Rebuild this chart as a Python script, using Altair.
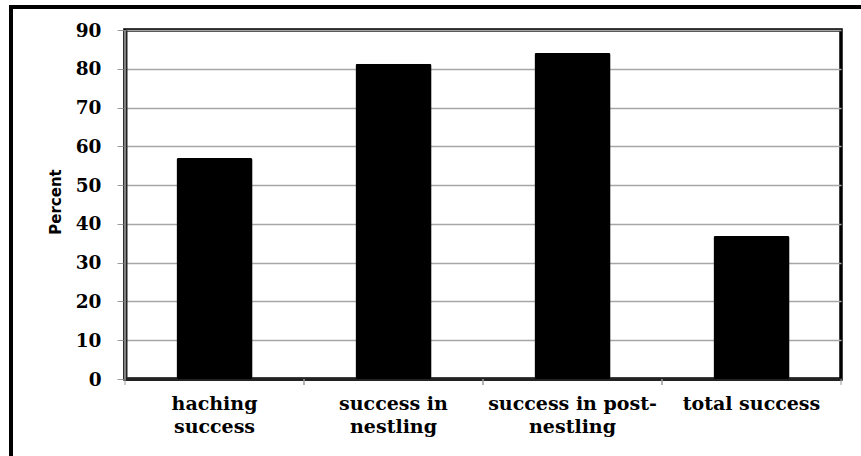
import altair as alt
import pandas as pd

# Breeding success by stage (%)
stages = [
    "haching\nsuccess",
    "success in\nnestling",
    "success in post-\nnestling",
    "total success",
]
percent = [57.0, 81.3, 84.1, 36.9]

df = pd.DataFrame({"stage": stages, "percent": percent})

PLOT_W, PLOT_H = 716, 349
LEFT, TOP = 125, 30
LABEL_FONT = "DejaVu Serif"

x_enc = alt.X(
    "stage:N",
    sort=stages,
    scale=alt.Scale(paddingInner=0.575, paddingOuter=0.2875),
    axis=alt.Axis(
        title=None,
        labelAngle=0,
        labelExpr="split(datum.label, '\\n')",
        labelFont=LABEL_FONT,
        labelFontWeight="bold",
        labelFontSize=19,
        labelColor="#000",
        labelLineHeight=23,
        labelPadding=15,
        labelBaseline="top",
        ticks=False,
        domainColor="#222",
        domainWidth=3,
        grid=False,
    ),
)

y_enc = alt.Y(
    "percent:Q",
    scale=alt.Scale(domain=[0, 90], nice=False),
    axis=alt.Axis(
        title="Percent",
        values=list(range(0, 91, 10)),
        titleFont="DejaVu Sans",
        titleFontWeight="bold",
        titleFontSize=15,
        titleColor="#000",
        titleAngle=-90,
        titleX=-70,
        titleY=PLOT_H / 2 - 3,
        titleAlign="center",
        titleBaseline="middle",
        labelFont=LABEL_FONT,
        labelFontWeight="bold",
        labelFontSize=18.5,
        labelColor="#000",
        labelPadding=16,
        tickSize=8,
        tickColor="#999",
        tickWidth=1,
        domainColor="#222",
        domainWidth=4,
        grid=True,
        gridColor="#a6a6a6",
        gridWidth=1.5,
    ),
)

bars = alt.Chart(df).mark_bar(
    color="#000", cornerRadius=2
).encode(x=x_enc, y=y_enc)

# category tick marks at the boundaries between groups
step_x = alt.Scale(paddingInner=0, paddingOuter=0)
tick_start = alt.Chart(df).mark_rule(color="#999", strokeWidth=1).encode(
    x=alt.X("stage:N", sort=stages, scale=step_x, bandPosition=0, axis=None),
    y=alt.value(PLOT_H),
    y2=alt.value(PLOT_H + 6),
)
tick_end = alt.Chart(df).mark_rule(color="#999", strokeWidth=1).encode(
    x=alt.X("stage:N", sort=stages, scale=step_x, bandPosition=1, axis=None),
    y=alt.value(PLOT_H),
    y2=alt.value(PLOT_H + 6),
)

# lighter centre line of the doubled left axis line
axis_core = alt.Chart(df).mark_rule(color="#888", strokeWidth=1).encode(
    x=alt.value(0), y=alt.value(0), y2=alt.value(PLOT_H)
)

# frame around the whole figure
frame = alt.Chart(df).mark_rect(
    fill=None, stroke="#000", strokeWidth=4, clip=False
).encode(
    x=alt.value(11 - LEFT),
    x2=alt.value(880 - LEFT),
    y=alt.value(7 - TOP),
    y2=alt.value(470 - TOP),
)

chart = (
    alt.layer(frame, bars, tick_start, tick_end, axis_core)
    .resolve_scale(x="independent")
    .properties(
        width=PLOT_W,
        height=PLOT_H,
        autosize=alt.AutoSizeParams(type="none"),
        padding={"left": LEFT, "top": TOP, "right": 861 - LEFT - PLOT_W, "bottom": 456 - TOP - PLOT_H},
        background="#ffffff",
    )
    .configure_view(stroke="#000", strokeWidth=3.5)
)

chart.save("out.html", embed_options={"renderer": "svg", "actions": False})
